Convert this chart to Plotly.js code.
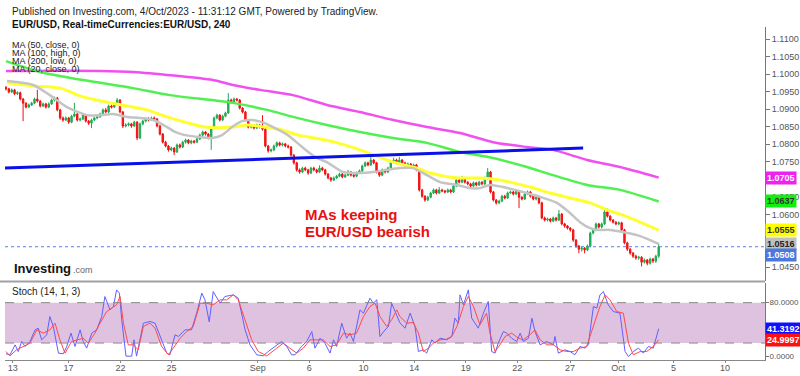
<!DOCTYPE html>
<html><head><meta charset="utf-8">
<script src="https://cdn.plot.ly/plotly-3.0.1.min.js"></script>
<style>html,body{margin:0;padding:0;background:#fff}#chart{width:800px;height:376px}</style>
</head><body><div id="chart"></div>
<script>
// ---- Price data (EUR/USD, 4h bars, bar index) ----
const opens = [1.0962,1.0958,1.0949,1.0955,1.0944,1.0947,1.0929,1.0917,1.0906,1.0912,
1.0917,1.0929,1.0923,1.0909,1.0915,1.0906,1.0915,1.0926,1.0932,1.0898,
1.0875,1.0869,1.0875,1.0863,1.0880,1.0886,1.0869,1.0872,1.0883,1.0866,
1.0860,1.0869,1.0875,1.0878,1.0886,1.0898,1.0892,1.0909,1.0906,1.0915,
1.0926,1.0892,1.0852,1.0855,1.0858,1.0852,1.0863,1.0818,1.0858,1.0866,
1.0872,1.0869,1.0875,1.0872,1.0852,1.0829,1.0806,1.0795,1.0784,1.0789,
1.0778,1.0798,1.0792,1.0806,1.0812,1.0804,1.0809,1.0806,1.0815,1.0826,
1.0835,1.0829,1.0818,1.0846,1.0875,1.0883,1.0869,1.0880,1.0889,1.0926,
1.0920,1.0929,1.0926,1.0903,1.0892,1.0869,1.0849,1.0852,1.0846,1.0855,
1.0849,1.0843,1.0795,1.0781,1.0784,1.0795,1.0804,1.0798,1.0801,1.0795,
1.0792,1.0769,1.0747,1.0727,1.0721,1.0732,1.0727,1.0718,1.0732,1.0727,
1.0721,1.0732,1.0727,1.0715,1.0704,1.0698,1.0704,1.0709,1.0715,1.0707,
1.0712,1.0721,1.0712,1.0709,1.0718,1.0724,1.0738,1.0747,1.0741,1.0755,
1.0747,1.0721,1.0712,1.0727,1.0721,1.0732,1.0749,1.0755,1.0747,1.0755,
1.0747,1.0738,1.0744,1.0735,1.0741,1.0727,1.0670,1.0652,1.0641,1.0649,
1.0661,1.0670,1.0661,1.0670,1.0667,1.0664,1.0670,1.0664,1.0681,1.0698,
1.0692,1.0704,1.0692,1.0687,1.0681,1.0690,1.0684,1.0692,1.0687,1.0704,
1.0721,1.0664,1.0641,1.0633,1.0638,1.0652,1.0647,1.0661,1.0664,1.0658,
1.0667,1.0649,1.0644,1.0658,1.0664,1.0652,1.0644,1.0649,1.0633,1.0590,
1.0584,1.0587,1.0581,1.0590,1.0584,1.0601,1.0573,1.0567,1.0561,1.0556,
1.0527,1.0510,1.0501,1.0504,1.0499,1.0510,1.0547,1.0556,1.0573,1.0564,
1.0573,1.0607,1.0595,1.0584,1.0578,1.0573,1.0576,1.0556,1.0519,1.0501,
1.0490,1.0481,1.0476,1.0478,1.0464,1.0470,1.0461,1.0473,1.0467,1.0481];
const highs = [1.0966,1.0961,1.0959,1.0958,1.0951,1.0950,1.0932,1.0920,1.0916,1.0921,
1.0933,1.0955,1.0926,1.0919,1.0918,1.0919,1.0930,1.0936,1.0935,1.0901,
1.0879,1.0879,1.0878,1.0884,1.0918,1.0889,1.0876,1.0887,1.0886,1.0869,
1.0873,1.0879,1.0882,1.0890,1.0902,1.0903,1.0913,1.0913,1.0919,1.0932,
1.0929,1.0895,1.0860,1.0862,1.0861,1.0867,1.0866,1.0862,1.0870,1.0876,
1.0877,1.0879,1.0879,1.0875,1.0855,1.0832,1.0810,1.0798,1.0793,1.0792,
1.0802,1.0802,1.0810,1.0816,1.0815,1.0813,1.0812,1.0819,1.0830,1.0839,
1.0838,1.0832,1.0850,1.0879,1.0887,1.0886,1.0884,1.0893,1.0946,1.0930,
1.0933,1.0932,1.0929,1.0906,1.0895,1.0872,1.0856,1.0855,1.0859,1.0858,
1.0883,1.0846,1.0798,1.0788,1.0799,1.0808,1.0807,1.0805,1.0804,1.0799,
1.0795,1.0772,1.0750,1.0731,1.0736,1.0736,1.0730,1.0736,1.0736,1.0730,
1.0740,1.0736,1.0730,1.0718,1.0707,1.0708,1.0713,1.0719,1.0718,1.0716,
1.0727,1.0724,1.0716,1.0722,1.0728,1.0742,1.0751,1.0750,1.0769,1.0758,
1.0750,1.0724,1.0731,1.0730,1.0736,1.0753,1.0762,1.0759,1.0764,1.0758,
1.0750,1.0748,1.0747,1.0745,1.0744,1.0730,1.0673,1.0655,1.0653,1.0665,
1.0674,1.0673,1.0678,1.0673,1.0670,1.0674,1.0673,1.0685,1.0702,1.0701,
1.0710,1.0707,1.0695,1.0690,1.0694,1.0693,1.0696,1.0695,1.0708,1.0732,
1.0724,1.0667,1.0644,1.0642,1.0656,1.0656,1.0665,1.0668,1.0667,1.0671,
1.0670,1.0652,1.0662,1.0668,1.0667,1.0655,1.0653,1.0652,1.0636,1.0594,
1.0591,1.0590,1.0594,1.0593,1.0613,1.0604,1.0576,1.0570,1.0564,1.0559,
1.0530,1.0513,1.0508,1.0507,1.0514,1.0551,1.0560,1.0577,1.0576,1.0577,
1.0621,1.0617,1.0598,1.0587,1.0581,1.0580,1.0579,1.0559,1.0522,1.0504,
1.0493,1.0485,1.0482,1.0481,1.0474,1.0473,1.0477,1.0476,1.0485,1.0517];
const lows = [1.0953,1.0945,1.0946,1.0940,1.0940,1.0925,1.0866,1.0902,1.0903,1.0909,
1.0914,1.0919,1.0905,1.0906,1.0902,1.0903,1.0912,1.0922,1.0894,1.0870,
1.0864,1.0866,1.0858,1.0860,1.0877,1.0865,1.0865,1.0869,1.0862,1.0855,
1.0846,1.0866,1.0871,1.0875,1.0883,1.0888,1.0889,1.0902,1.0903,1.0912,
1.0888,1.0846,1.0848,1.0851,1.0847,1.0849,1.0812,1.0815,1.0854,1.0862,
1.0865,1.0866,1.0868,1.0848,1.0825,1.0802,1.0791,1.0779,1.0780,1.0769,
1.0775,1.0788,1.0789,1.0802,1.0800,1.0800,1.0802,1.0803,1.0812,1.0822,
1.0825,1.0814,1.0784,1.0843,1.0871,1.0865,1.0866,1.0877,1.0886,1.0916,
1.0917,1.0922,1.0899,1.0888,1.0865,1.0845,1.0845,1.0842,1.0843,1.0845,
1.0839,1.0791,1.0776,1.0777,1.0780,1.0791,1.0794,1.0794,1.0791,1.0788,
1.0765,1.0742,1.0722,1.0716,1.0718,1.0723,1.0713,1.0715,1.0723,1.0717,
1.0718,1.0723,1.0711,1.0700,1.0693,1.0695,1.0701,1.0706,1.0703,1.0704,
1.0709,1.0708,1.0705,1.0706,1.0715,1.0721,1.0735,1.0737,1.0738,1.0743,
1.0717,1.0707,1.0709,1.0717,1.0718,1.0729,1.0746,1.0743,1.0744,1.0743,
1.0734,1.0735,1.0731,1.0732,1.0723,1.0665,1.0647,1.0636,1.0638,1.0646,
1.0658,1.0657,1.0658,1.0663,1.0660,1.0661,1.0660,1.0661,1.0678,1.0688,
1.0689,1.0688,1.0683,1.0677,1.0678,1.0680,1.0681,1.0683,1.0684,1.0701,
1.0660,1.0637,1.0628,1.0629,1.0635,1.0643,1.0644,1.0658,1.0654,1.0655,
1.0618,1.0640,1.0641,1.0655,1.0648,1.0640,1.0640,1.0629,1.0586,1.0580,
1.0580,1.0577,1.0578,1.0580,1.0581,1.0569,1.0562,1.0557,1.0551,1.0522,
1.0505,1.0489,1.0494,1.0489,1.0495,1.0506,1.0543,1.0552,1.0560,1.0560,
1.0570,1.0591,1.0580,1.0574,1.0569,1.0569,1.0552,1.0515,1.0496,1.0485,
1.0476,1.0471,1.0471,1.0452,1.0460,1.0455,1.0457,1.0462,1.0462,1.0476];
const closes = [1.0958,1.0949,1.0955,1.0944,1.0947,1.0929,1.0917,1.0906,1.0912,1.0917,
1.0929,1.0923,1.0909,1.0915,1.0906,1.0915,1.0926,1.0932,1.0898,1.0875,
1.0869,1.0875,1.0863,1.0880,1.0886,1.0869,1.0872,1.0883,1.0866,1.0860,
1.0869,1.0875,1.0878,1.0886,1.0898,1.0892,1.0909,1.0906,1.0915,1.0926,
1.0892,1.0852,1.0855,1.0858,1.0852,1.0863,1.0818,1.0858,1.0866,1.0872,
1.0869,1.0875,1.0872,1.0852,1.0829,1.0806,1.0795,1.0784,1.0789,1.0778,
1.0798,1.0792,1.0806,1.0812,1.0804,1.0809,1.0806,1.0815,1.0826,1.0835,
1.0829,1.0818,1.0846,1.0875,1.0883,1.0869,1.0880,1.0889,1.0926,1.0920,
1.0929,1.0926,1.0903,1.0892,1.0869,1.0849,1.0852,1.0846,1.0855,1.0849,
1.0843,1.0795,1.0781,1.0784,1.0795,1.0804,1.0798,1.0801,1.0795,1.0792,
1.0769,1.0747,1.0727,1.0721,1.0732,1.0727,1.0718,1.0732,1.0727,1.0721,
1.0732,1.0727,1.0715,1.0704,1.0698,1.0704,1.0709,1.0715,1.0707,1.0712,
1.0721,1.0712,1.0709,1.0718,1.0724,1.0738,1.0747,1.0741,1.0755,1.0747,
1.0721,1.0712,1.0727,1.0721,1.0732,1.0749,1.0755,1.0747,1.0755,1.0747,
1.0738,1.0744,1.0735,1.0741,1.0727,1.0670,1.0652,1.0641,1.0649,1.0661,
1.0670,1.0661,1.0670,1.0667,1.0664,1.0670,1.0664,1.0681,1.0698,1.0692,
1.0704,1.0692,1.0687,1.0681,1.0690,1.0684,1.0692,1.0687,1.0704,1.0721,
1.0664,1.0641,1.0633,1.0638,1.0652,1.0647,1.0661,1.0664,1.0658,1.0667,
1.0649,1.0644,1.0658,1.0664,1.0652,1.0644,1.0649,1.0633,1.0590,1.0584,
1.0587,1.0581,1.0590,1.0584,1.0601,1.0573,1.0567,1.0561,1.0556,1.0527,
1.0510,1.0501,1.0504,1.0499,1.0510,1.0547,1.0556,1.0573,1.0564,1.0573,
1.0607,1.0595,1.0584,1.0578,1.0573,1.0576,1.0556,1.0519,1.0501,1.0490,
1.0481,1.0476,1.0478,1.0464,1.0470,1.0461,1.0473,1.0467,1.0481,1.0508];

// ---- Moving averages (sampled, bar index / price) ----
const ma20X = [0.4,9.5,15.4,21.4,28.4,33.0,37.5,42.5,47.0,51.6,56.5,59.3,62.8,67.4,72.3,75.8,79.3,82.8,86.3,89.8,94.4,98.9,103.9,108.4,113.0,118.2,124.2,128.8,133.7,138.2,142.8,147.7,152.3,158.2,162.8,166.3,169.8,174.4,181.4,187.4,193.3,197.9,201.4,204.9,207.4,211.9,216.5,221.4,226.0,229];
const ma20Y = [1.0980,1.0969,1.0940,1.0906,1.0883,1.0883,1.0886,1.0878,1.0875,1.0869,1.0849,1.0835,1.0826,1.0821,1.0818,1.0826,1.0849,1.0866,1.0869,1.0863,1.0846,1.0826,1.0792,1.0764,1.0747,1.0721,1.0718,1.0721,1.0727,1.0732,1.0732,1.0712,1.0692,1.0684,1.0675,1.0675,1.0684,1.0678,1.0664,1.0650,1.0633,1.0604,1.0578,1.0561,1.0556,1.0556,1.0550,1.0541,1.0527,1.0516];
const ma50X = [0.4,9.5,18.9,27.0,35.4,42.5,49.5,56.5,62.8,69.8,79.3,84.9,90.9,96.8,102.5,108.4,115.4,124.2,135.8,144.2,148.8,158.2,166.3,173.3,176.8,183.9,190.9,197.9,204.9,210.9,216.5,222.5,229];
const ma50Y = [1.0975,1.0966,1.0960,1.0935,1.0920,1.0909,1.0898,1.0878,1.0863,1.0849,1.0849,1.0855,1.0849,1.0841,1.0826,1.0818,1.0806,1.0784,1.0749,1.0732,1.0718,1.0704,1.0704,1.0698,1.0692,1.0678,1.0661,1.0647,1.0633,1.0613,1.0598,1.0578,1.0555];
const ma100X = [0,11.9,27.0,44.6,57.5,79.6,91.6,100.7,112.6,124.2,135.8,147.7,159.3,170.9,182.8,191.9,203.9,215.4,229];
const ma100Y = [1.1037,1.1006,1.0983,1.0960,1.0940,1.0918,1.0898,1.0878,1.0855,1.0835,1.0818,1.0804,1.0778,1.0761,1.0735,1.0712,1.0684,1.0670,1.0637];
const ma200X = [0,33.0,44.6,72.6,79.6,89.1,100.7,112.6,124.2,135.8,147.7,159.3,170.9,182.8,191.9,203.9,215.4,229];
const ma200Y = [1.1009,1.1009,1.1006,1.0983,1.0969,1.0955,1.0940,1.0912,1.0892,1.0869,1.0849,1.0832,1.0806,1.0792,1.0784,1.0755,1.0735,1.0705];
// ---- Trend line ----
const trendX = [-0.4,202.5];
const trendY = [1.0732,1.0789];

// ---- Stochastic (14,1,3) ----
const stochKX = [0,1.4,3.2,4.3,5.5,6.7,8.4,10.2,11.3,12.5,14.3,15.4,16.6,18.4,20.1,21.3,22.8,24.2,26.0,27.1,28.3,30.1,31.8,33.6,34.7,36.5,37.7,38.8,39.8,40.6,42.1,44.1,44.9,45.8,48.2,50.5,52.3,56.4,57.5,59.3,60.5,61.6,62.8,65.1,66.9,68.7,69.8,71.3,72.7,75.1,76.8,79.8,81.5,83.9,85.6,88.0,90.3,92.0,95.0,96.7,98.5,100.2,101.4,103.7,105.5,107.3,108.4,110.2,111.9,113.7,114.9,116.0,117.8,119.5,120.7,121.9,124.2,125.4,127.7,128.9,130.1,131.2,133.0,134.2,135.3,137.1,138.2,140.0,141.8,143.5,144.7,146.4,147.6,149.4,150.5,152.3,154.6,156.4,157.5,158.7,159.3,160.5,162.2,163.4,165.7,167.5,169.2,170.4,171.6,172.7,174.5,175.7,177.4,179.2,180.4,181.5,183.3,184.5,185.6,187.4,189.7,192.1,192.6,193.8,195.0,196.1,197.9,199.6,201.4,203.2,204.3,206.1,207.3,208.4,209.6,211.3,213.1,215.4,217.2,218.4,220.1,221.9,223.6,225.4,227.1,229];
const stochK = [4.0,2.5,17.3,7.4,22.3,14.9,22.3,39.6,42.1,24.8,32.2,59.4,44.6,5.0,4.0,14.9,34.7,14.9,39.6,22.3,12.4,34.7,39.6,59.4,89.1,69.3,74.3,99.0,94.1,54.5,0.5,0.5,24.8,0.5,49.5,52.0,49.5,5.0,2.5,32.2,29.7,34.7,39.6,39.6,64.4,94.1,84.2,51.5,96.5,79.2,89.1,91.6,86.6,39.6,17.3,2.5,1.0,7.4,17.3,22.3,14.9,2.5,2.5,14.9,22.3,37.1,12.4,27.2,19.8,5.0,24.8,14.9,49.5,27.2,34.7,22.3,69.3,64.4,86.6,79.2,84.2,29.7,39.6,44.6,79.2,59.4,50.0,42.1,64.4,44.6,7.4,9.9,5.0,24.8,19.8,27.2,24.8,29.7,56.9,49.5,91.6,76.7,99.0,56.9,42.1,64.4,81.7,7.4,5.0,19.8,37.1,34.7,27.2,22.3,34.7,22.3,27.2,56.9,37.1,17.3,22.3,17.3,29.7,5.0,7.4,9.9,7.4,2.5,14.9,12.4,17.3,74.3,71.8,91.6,96.5,76.7,66.8,64.4,7.4,0.0,7.4,12.4,5.0,14.9,12.4,41.3192];
const stochDX = [0,1.4,3.7,6.1,8.4,10.8,13.1,15.4,17.2,18.9,20.7,23.0,25.4,27.1,28.9,31.2,33.0,35.3,37.1,38.8,40.0,41.2,42.9,44.7,46.4,48.2,50.5,52.3,54.6,57.0,58.7,61.1,63.4,65.7,68.1,70.4,72.7,75.1,77.4,79.8,81.5,83.9,86.2,88.5,91.5,95.0,97.3,99.6,102.0,104.3,106.7,109.0,111.3,113.7,116.0,118.4,120.7,123.0,125.4,127.7,129.5,131.2,133.6,135.3,137.1,138.2,140.6,142.9,144.7,146.4,148.2,149.9,152.3,154.6,156.4,158.2,160.5,162.2,164.0,166.3,168.6,169.8,171.6,173.3,175.1,177.4,179.8,181.5,183.8,185.6,187.4,189.7,192.1,194.4,196.7,199.1,201.4,203.7,206.1,208.4,210.2,211.9,214.3,216.6,218.4,220.1,222.5,224.8,227.1,229];
const stochD = [7.4,1.0,9.9,14.9,19.8,39.6,34.7,39.6,49.5,24.8,5.0,22.3,24.8,27.2,19.8,34.7,49.5,66.8,71.8,76.7,89.1,49.5,17.3,17.3,9.9,44.6,49.5,42.1,14.9,2.5,12.4,27.2,37.1,44.6,79.2,79.2,76.7,84.2,84.2,91.6,84.2,54.5,24.8,7.4,1.0,12.4,19.8,12.4,5.0,12.4,24.8,24.8,24.8,14.9,17.3,34.7,32.2,34.7,59.4,74.3,79.2,59.4,44.6,54.5,69.3,59.4,49.5,50.5,34.7,7.4,12.4,19.8,24.8,25.7,29.7,44.6,74.3,89.1,74.3,47.0,64.4,34.7,7.4,17.3,29.7,34.7,27.2,24.8,32.2,39.6,24.8,17.3,17.3,9.9,7.4,7.4,12.4,14.9,44.6,74.3,91.6,84.2,66.8,64.4,19.8,2.5,7.4,7.4,14.9,24.9997];

// ---- Axis labels ----
const dateTickPos = [2.35,21.9,40.2,58.1,88.3,106.4,125.4,143.2,161.3,179.4,197.9,214.8,234.2,252.3];
const dateTickText = ['13','17','22','25','Sep','6','10','14','19','22','27','Oct','5','10'];
const priceTicks = [1.0450,1.0600,1.0650,1.0750,1.0800,1.0850,1.0900,1.0950,1.1000,1.1050,1.1100];
const priceBadges = [1.0705,1.0637,1.0555,1.0516];
const stochTicks = [0,80];
const stochBadges = [41.3192,24.9997];

const FONT = '"Liberation Sans", Arial, Helvetica, sans-serif';
const xIdx = closes.map((_, i) => i);
const X0 = 5/800, X1 = 765/800;
const py = p => 1 - p/376;

const traces = [
  {type:'candlestick', x:xIdx, open:opens, high:highs, low:lows, close:closes, xaxis:'x', yaxis:'y',
   increasing:{line:{color:'#1faa55', width:1}, fillcolor:'#22b85c'},
   decreasing:{line:{color:'#f01010', width:1}, fillcolor:'#ff1a1a'},
   whiskerwidth:0, hoverinfo:'skip'},
  {type:'scatter', mode:'lines', x:ma200X, y:ma200Y, line:{color:'#f050f0', width:2.5, shape:'spline', smoothing:0.7}, hoverinfo:'skip'},
  {type:'scatter', mode:'lines', x:ma100X, y:ma100Y, line:{color:'#50f050', width:2.5, shape:'spline', smoothing:0.7}, hoverinfo:'skip'},
  {type:'scatter', mode:'lines', x:ma50X, y:ma50Y, line:{color:'#ffff30', width:3, shape:'spline', smoothing:0.7}, hoverinfo:'skip'},
  {type:'scatter', mode:'lines', x:ma20X, y:ma20Y, line:{color:'#c4c4c4', width:2.5, shape:'spline', smoothing:0.7}, hoverinfo:'skip'},
  {type:'scatter', mode:'lines', x:trendX, y:trendY, line:{color:'#0a10e8', width:3}, hoverinfo:'skip'},
  {type:'scatter', mode:'lines', x:stochKX, y:stochK, xaxis:'x', yaxis:'y2', line:{color:'#6060ff', width:1}, hoverinfo:'skip'},
  {type:'scatter', mode:'lines', x:stochDX, y:stochD, xaxis:'x', yaxis:'y2', line:{color:'#ff4a4a', width:1}, hoverinfo:'skip'}
];

const lastClose = closes[closes.length-1];
const shapes = [
  {type:'rect', xref:'paper', x0:X0, x1:X1, yref:'y2', y0:20, y1:80, fillcolor:'#dfc2df', line:{width:0}, layer:'below'},
  {type:'line', xref:'paper', x0:X0, x1:X1, yref:'y2', y0:80, y1:80, line:{color:'#8a8a8a', width:1, dash:'dash'}},
  {type:'line', xref:'paper', x0:X0, x1:X1, yref:'y2', y0:20, y1:20, line:{color:'#8a8a8a', width:1, dash:'dash'}},
  {type:'line', xref:'paper', x0:0, x1:X1, yref:'paper', y0:py(281.5), y1:py(281.5), line:{color:'#a0a0a0', width:2}},
  {type:'line', xref:'paper', x0:X0, x1:X1, yref:'y', y0:lastClose, y1:lastClose, line:{color:'#5a7fe0', width:1, dash:'dot'}}
];

function txt(x, y, text, size, color, extra) {
  return Object.assign({xref:'paper', yref:'paper', x:x/800, y:py(y), xanchor:'left', yanchor:'middle',
    text:text, showarrow:false, font:{family:FONT, size:size, color:color}}, extra||{});
}
function badge(val, yref, bg, fg, shift) {
  return {xref:'paper', x:X1, xanchor:'left', yref:yref, y:val, yanchor:'middle', yshift:shift||0,
    text:'<b>'+val.toFixed(4)+'</b>', showarrow:false, bgcolor:bg, borderpad:1,
    font:{family:FONT, size:9, color:fg}};
}

const annotations = [
  txt(10, 11, 'Published on Investing.com, 4/Oct/2023 - 11:31:12 GMT, Powered by TradingView.', 10, '#222'),
  txt(10, 25, '<b>EUR/USD, Real-timeCurrencies:EUR/USD, 240</b>', 10, '#111'),
  txt(10, 45, 'MA (50, close, 0)', 9, '#222'),
  txt(10, 53, 'MA (100, high, 0)', 9, '#222'),
  txt(10, 61, 'MA (200, low, 0)', 9, '#222'),
  txt(10, 69, 'MA (20, close, 0)', 9, '#222'),
  txt(303, 214, '<b>MAs keeping</b>', 15, '#e81010'),
  txt(303, 231, '<b>EUR/USD bearish</b>', 15, '#e81010'),
  txt(12, 268, '<b>Investing</b>', 13, '#111'),
  txt(71, 270, '.com', 9, '#666'),
  txt(10, 291, 'Stoch (14, 1, 3)', 10, '#222'),
  badge(priceBadges[0], 'y', '#ee22ee', '#ffffff', 0),
  badge(priceBadges[1], 'y', '#11ee11', '#333333', 0),
  badge(priceBadges[2], 'y', '#ffff00', '#333333', 0),
  badge(priceBadges[3], 'y', '#c0c0c0', '#222222', 0),
  badge(lastClose, 'y', '#4a78dc', '#ffffff', -8),
  badge(stochBadges[0], 'y2', '#1010ff', '#ffffff', 0),
  badge(stochBadges[1], 'y2', '#ff1010', '#ffffff', 0)
];

const layout = {
  width:800, height:376, margin:{l:0, r:0, t:0, b:0},
  paper_bgcolor:'#ffffff', plot_bgcolor:'#ffffff',
  showlegend:false, hovermode:false, dragmode:false,
  font:{family:FONT, size:9, color:'#555'},
  xaxis:{domain:[X0, X1], range:[-0.35, 266.3], anchor:'y2', showgrid:false, zeroline:false,
    showline:true, linecolor:'#888', linewidth:1, ticks:'outside', ticklen:2, tickcolor:'#888',
    ticklabelstandoff:-3,
    tickmode:'array', tickvals:dateTickPos, ticktext:dateTickText, tickfont:{family:FONT, size:9, color:'#555'},
    rangeslider:{visible:false}, fixedrange:true},
  yaxis:{domain:[py(281), py(27)], range:[1.04103, 1.11342], side:'right', anchor:'x', showgrid:false, zeroline:false,
    showline:true, linecolor:'#777', linewidth:1, ticks:'outside', ticklen:4, tickcolor:'#777',
    tickmode:'array', tickvals:priceTicks, ticktext:priceTicks.map(v => v.toFixed(4)),
    tickfont:{family:FONT, size:9, color:'#555'}, fixedrange:true},
  yaxis2:{domain:[py(360), py(283)], range:[-5.2, 109.2], side:'right', anchor:'x', showgrid:false, zeroline:false,
    showline:true, linecolor:'#777', linewidth:1, ticks:'outside', ticklen:3, tickcolor:'#777',
    ticklabelstandoff:-1,
    tickmode:'array', tickvals:stochTicks, ticktext:stochTicks.map(v => v.toFixed(4)), tickfont:{family:FONT, size:8, color:'#555'}, fixedrange:true},
  shapes:shapes, annotations:annotations
};

Plotly.newPlot('chart', traces, layout, {staticPlot:true, displayModeBar:false});
</script></body></html>
